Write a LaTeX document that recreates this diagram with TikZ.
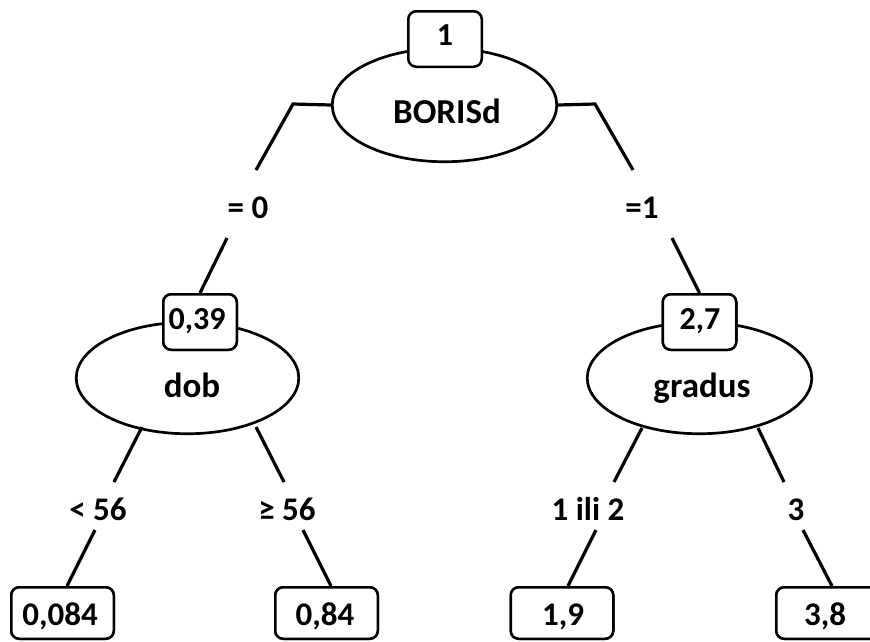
\documentclass[tikz,border=0pt]{standalone}
\usepackage{fontspec}
\setmainfont{Carlito}
\usetikzlibrary{shapes.geometric}
\begin{document}
\begin{tikzpicture}[x=1pt,y=-1pt,
  txt/.style={font=\bfseries\fontsize{33}{33}\selectfont, inner sep=0pt, anchor=base},
  bigtxt/.style={txt, font=\bfseries\fontsize{35}{35}\selectfont},
  smalltxt/.style={txt, font=\bfseries\fontsize{32}{32}\selectfont},
  valbox/.style={draw, line width=2.5pt, rounded corners=8pt, fill=white, inner sep=0pt, minimum width=73.5pt, minimum height=55.5pt},
  leafbox/.style={draw, line width=2.5pt, rounded corners=8pt, fill=white, inner sep=0pt, minimum width=102.5pt, minimum height=51.5pt},
  splitnode/.style={draw, ellipse, line width=2.7pt, inner sep=0pt, fill=white},
  conn/.style={line width=3.2pt}]
\useasboundingbox (0,0) rectangle (870,641);

% ellipses
\node[splitnode, minimum width=224.5pt, minimum height=113.5pt] (e1) at (444.5,105) {};
\node[splitnode, minimum width=222.5pt, minimum height=111.5pt] (e2) at (187.5,378) {};
\node[splitnode, minimum width=224.5pt, minimum height=111.5pt] (e3) at (699.5,378) {};

% value boxes
\node[valbox] (b1) at (445,39) {};
\node[valbox] (b2) at (200,322) {};
\node[valbox] (b3) at (699.5,322) {};
\node[leafbox] (l1) at (62.5,613) {};
\node[leafbox] (l2) at (326.5,613) {};
\node[leafbox] (l3) at (562,613) {};
\node[leafbox] (l4) at (827.5,613) {};

% helper coordinates
\coordinate (k1) at (293,104);
\coordinate (k2) at (256,170);
\coordinate (k3) at (227,238);
\coordinate (k4) at (595,104);
\coordinate (k5) at (633,170);
\coordinate (k6) at (672,238);
\coordinate (m1) at (142,427);
\coordinate (m2) at (114,482);
\coordinate (m3) at (95,530);
\coordinate (m4) at (256,427);
\coordinate (m5) at (284,482);
\coordinate (m6) at (303,530);
\coordinate (n1) at (642,428);
\coordinate (n2) at (614,482);
\coordinate (n3) at (596,530);
\coordinate (n4) at (758,428);
\coordinate (n5) at (784,482);
\coordinate (n6) at (803,530);

% connectors
\draw[conn] (e1.west) -- (k1) -- (k2);
\draw[conn] (k3) -- (b2.north);
\draw[conn] (e1.east) -- (k4) -- (k5);
\draw[conn] (k6) -- (b3.north);
\draw[conn] (m1) -- (m2);
\draw[conn] (m3) -- ([xshift=4.5pt]l1.north);
\draw[conn] (m4) -- (m5);
\draw[conn] (m6) -- ([xshift=4.5pt]l2.north);
\draw[conn] (n1) -- (n2);
\draw[conn] (n3) -- ([xshift=6pt]l3.north);
\draw[conn] (n4) -- (n5);
\draw[conn] (n6) -- ([xshift=4.5pt]l4.north);

% redraw boxes on top of connectors
\node[valbox] at (b2) {};
\node[valbox] at (b3) {};
\node[leafbox] at (l1) {};
\node[leafbox] at (l2) {};
\node[leafbox] at (l3) {};
\node[leafbox] at (l4) {};

% texts
\node[smalltxt] (t1) at (445,45) {1};
\node[bigtxt] (t2) at (447,123) {BORISd};
\node[txt] (t3) at (248,218) {= 0};
\node[txt] (t4) at (642,218) {=1};
\node[smalltxt] (t5) at (197,329) {0,39};
\node[bigtxt] (t6) at (192,397) {dob};
\node[smalltxt] (t7) at (700,329) {2,7};
\node[bigtxt] (t8) at (702,397) {gradus};
\node[txt] (t9) at (98,520) {< 56};
\node[txt] (t10) at (287,520) {≥ 56};
\node[txt] (t11) at (588,520) {1 ili 2};
\node[txt] (t12) at (796,520) {3};
\node[txt] (t13) at (60,625) {0,084};
\node[txt] (t14) at (325,625) {0,84};
\node[txt] (t15) at (563,625) {1,9};
\node[txt] (t16) at (825,625) {3,8};
\end{tikzpicture}
\end{document}
